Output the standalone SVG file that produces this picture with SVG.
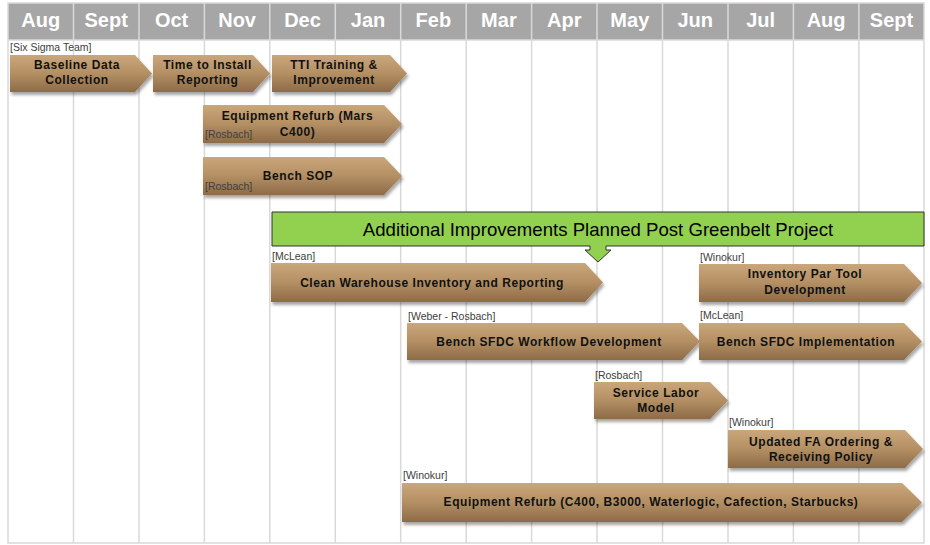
<svg xmlns="http://www.w3.org/2000/svg" width="930" height="545" viewBox="0 0 930 545">
<defs>
<linearGradient id="tan" x1="0" y1="0" x2="0" y2="1">
<stop offset="0" stop-color="#caa77b"/>
<stop offset="0.5" stop-color="#b38f63"/>
<stop offset="1" stop-color="#8d6b47"/>
</linearGradient>
<filter id="sh" x="-5%" y="-20%" width="110%" height="150%">
<feDropShadow dx="1.5" dy="3" stdDeviation="1.8" flood-color="#000" flood-opacity="0.35"/>
</filter>
<style>
.hdr{fill:#a6a6a6}
.mon{font-family:"Liberation Sans",Arial,sans-serif;font-weight:bold;font-size:20px;fill:#fff;text-anchor:middle}
.grid{stroke:#d9d9d9;stroke-width:1.5;fill:none}
.arr{fill:url(#tan);filter:url(#sh)}
.t{font-family:"Liberation Sans",Arial,sans-serif;font-weight:bold;font-size:12px;fill:#111;text-anchor:middle;letter-spacing:0.55px}
.lbl{font-family:"Liberation Sans",Arial,sans-serif;font-size:10.5px;fill:#404040}
.ban{fill:#92d050;stroke:#333;stroke-width:1}
.bt{font-family:"Liberation Sans",Arial,sans-serif;font-size:18.6px;fill:#000;text-anchor:middle}
</style>
</defs>
<rect width="930" height="545" fill="#fff"/>
<g id="grid">
<rect class="hdr" x="8" y="3" width="916" height="37"/>
<rect class="grid" x="8" y="3" width="916" height="540"/>
<g class="grid">
<line x1="73.5" y1="3" x2="73.5" y2="543"/>
<line x1="139" y1="3" x2="139" y2="543"/>
<line x1="204.4" y1="3" x2="204.4" y2="543"/>
<line x1="269.8" y1="3" x2="269.8" y2="543"/>
<line x1="335.3" y1="3" x2="335.3" y2="543"/>
<line x1="400.7" y1="3" x2="400.7" y2="543"/>
<line x1="466.2" y1="3" x2="466.2" y2="543"/>
<line x1="531.6" y1="3" x2="531.6" y2="543"/>
<line x1="597" y1="3" x2="597" y2="543"/>
<line x1="662.5" y1="3" x2="662.5" y2="543"/>
<line x1="728" y1="3" x2="728" y2="543"/>
<line x1="793.4" y1="3" x2="793.4" y2="543"/>
<line x1="858.9" y1="3" x2="858.9" y2="543"/>
<line x1="8" y1="40" x2="924" y2="40"/>
</g>
<text class="mon" x="40.7" y="27">Aug</text>
<text class="mon" x="106.2" y="27">Sept</text>
<text class="mon" x="171.6" y="27">Oct</text>
<text class="mon" x="237.1" y="27">Nov</text>
<text class="mon" x="302.5" y="27">Dec</text>
<text class="mon" x="368" y="27">Jan</text>
<text class="mon" x="433.4" y="27">Feb</text>
<text class="mon" x="498.9" y="27">Mar</text>
<text class="mon" x="564.3" y="27">Apr</text>
<text class="mon" x="629.8" y="27">May</text>
<text class="mon" x="695.2" y="27">Jun</text>
<text class="mon" x="760.7" y="27">Jul</text>
<text class="mon" x="826.1" y="27">Aug</text>
<text class="mon" x="891.5" y="27">Sept</text>
</g>
<g id="baseline">
<text class="lbl" x="10" y="51">[Six Sigma Team]</text>
<polygon class="arr" points="10,55 135,55 152,73.5 135,92 10,92"/>
<text class="t" x="77" y="69">Baseline Data</text>
<text class="t" x="77" y="84">Collection</text>
</g>
<g id="tti-install">
<polygon class="arr" points="153,55 253,55 270,73.5 253,92 153,92"/>
<text class="t" x="207.5" y="69">Time to Install</text>
<text class="t" x="207.5" y="84">Reporting</text>
</g>
<g id="tti-training">
<polygon class="arr" points="272,55 390,55 407,73.5 390,92 272,92"/>
<text class="t" x="334" y="69">TTI Training &amp;</text>
<text class="t" x="334" y="84">Improvement</text>
</g>
<g id="refurb-mars">
<polygon class="arr" points="203,105 384,105 402,124 384,143 203,143"/>
<text class="t" x="297.5" y="120">Equipment Refurb (Mars</text>
<text class="t" x="297.5" y="136">C400)</text>
<text class="lbl" x="205" y="138">[Rosbach]</text>
</g>
<g id="bench-sop">
<polygon class="arr" points="203,157 384,157 402,176 384,195 203,195"/>
<text class="t" x="298" y="180">Bench SOP</text>
<text class="lbl" x="205" y="190">[Rosbach]</text>
</g>
<g id="banner">
<path class="ban" d="M272,212 H924 V246 H606 V250 H611 L598,262 L585,250 H590 V246 H272 Z"/>
<text class="bt" x="598" y="236">Additional Improvements Planned Post Greenbelt Project</text>
</g>
<g id="clean-warehouse">
<text class="lbl" x="272" y="260">[McLean]</text>
<polygon class="arr" points="271,263 585,263 603,282.5 585,302 271,302"/>
<text class="t" x="432" y="287">Clean Warehouse Inventory and Reporting</text>
</g>
<g id="inventory-par">
<text class="lbl" x="700" y="261">[Winokur]</text>
<polygon class="arr" points="699,264 904,264 922,283 904,302 699,302"/>
<text class="t" x="805" y="278">Inventory Par Tool</text>
<text class="t" x="805" y="294">Development</text>
</g>
<g id="sfdc-workflow">
<text class="lbl" x="408" y="320">[Weber - Rosbach]</text>
<polygon class="arr" points="407,323 682,323 700,341.5 682,360 407,360"/>
<text class="t" x="549" y="346">Bench SFDC Workflow Development</text>
</g>
<g id="sfdc-impl">
<text class="lbl" x="700" y="319">[McLean]</text>
<polygon class="arr" points="699,323 904,323 922,341.5 904,360 699,360"/>
<text class="t" x="806" y="346">Bench SFDC Implementation</text>
</g>
<g id="service-labor">
<text class="lbl" x="595" y="379">[Rosbach]</text>
<polygon class="arr" points="594,382 710,382 728,400.5 710,419 594,419"/>
<text class="t" x="656" y="397">Service Labor</text>
<text class="t" x="656" y="412">Model</text>
</g>
<g id="fa-ordering">
<text class="lbl" x="729" y="426">[Winokur]</text>
<polygon class="arr" points="728,430 905,430 923,449 905,468 728,468"/>
<text class="t" x="821" y="446">Updated FA Ordering &amp;</text>
<text class="t" x="821" y="461">Receiving Policy</text>
</g>
<g id="refurb-long">
<text class="lbl" x="403" y="479">[Winokur]</text>
<polygon class="arr" points="402,483 902,483 922,502.5 902,522 402,522"/>
<text class="t" x="651" y="506">Equipment Refurb (C400, B3000, Waterlogic, Cafection, Starbucks)</text>
</g>
</svg>
